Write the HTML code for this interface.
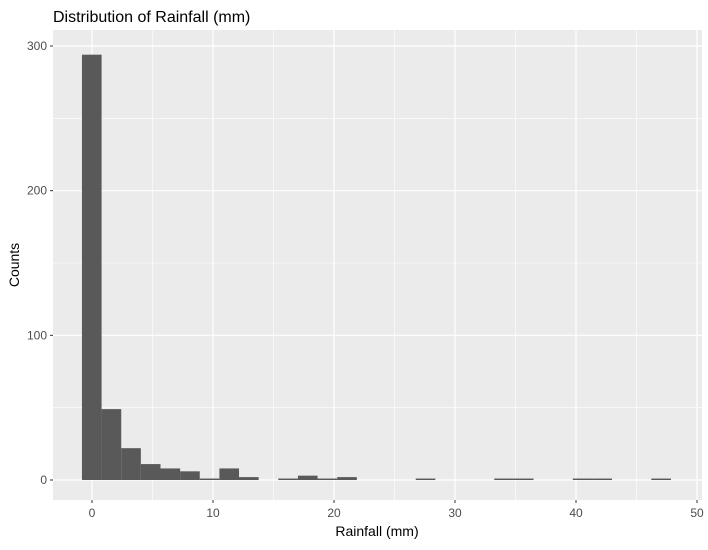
<!DOCTYPE html>
<html><head><meta charset="utf-8"><style>
body{margin:0;background:#fff;font-family:"Liberation Sans",Arial,sans-serif}
</style></head><body>
<svg id="chart" width="708" height="545" xmlns="http://www.w3.org/2000/svg">
<rect width="708" height="545" fill="#fff"/>
<text x="53" y="22" font-size="16" fill="#000">Distribution of Rainfall (mm)</text>
<text x="377" y="536" font-size="14" text-anchor="middle">Rainfall (mm)</text>
<text transform="translate(19,265) rotate(-90)" font-size="14" text-anchor="middle">Counts</text>
</svg>
<script>
const counts = [294,49,22,11,8,6,1,8,2,0,1,3,1,2,0,0,0,1,0,0,0,1,1,0,0,1,1,0,0,1];
const binStart = -0.83;
const binWidth = 1.6226;
const xTicks = [0,10,20,30,40,50];
const yTicks = [0,100,200,300];

const svg = document.getElementById('chart');
const NS = 'http://www.w3.org/2000/svg';
const L=53,R=702,T=30,B=500;
const x = v => 92 + (v-0)*(213-92)/10;
const y = v => 480 - v*(480-46)/300;
function el(tag, attrs, parent){const e=document.createElementNS(NS,tag);for(const k in attrs)e.setAttribute(k,attrs[k]);(parent||svg).appendChild(e);return e;}
const panel = el('rect',{x:L,y:T,width:R-L,height:B-T,fill:'#ebebeb'});


for(let i=0;i<xTicks.length-1;i++){const v=(xTicks[i]+xTicks[i+1])/2;const g=el('line',{x1:x(v),x2:x(v),y1:T,y2:B,stroke:'#fff','stroke-width':0.6});

}
for(let i=0;i<yTicks.length-1;i++){const v=(yTicks[i]+yTicks[i+1])/2;const g=el('line',{x1:L,x2:R,y1:y(v),y2:y(v),stroke:'#fff','stroke-width':0.6});

}
xTicks.forEach(v=>{const px=x(v);
const g=el('line',{x1:px,x2:px,y1:T,y2:B,stroke:'#fff','stroke-width':1.2});


const t=el('line',{x1:px,x2:px,y1:B,y2:B+3,stroke:'#333'});


const tx=el('text',{x:px,y:B+17,'font-size':12,fill:'#4d4d4d','text-anchor':'middle'});tx.textContent=v;

});
yTicks.forEach(v=>{const py=y(v);
const g=el('line',{x1:L,x2:R,y1:py,y2:py,stroke:'#fff','stroke-width':1.2});


const t=el('line',{x1:L-3,x2:L,y1:py,y2:py,stroke:'#333'});


const tx=el('text',{x:L-6,y:py+4,'font-size':12,fill:'#4d4d4d','text-anchor':'end'});tx.textContent=v;

});
counts.forEach((c,i)=>{if(c<=0)return;
const x0=x(binStart+i*binWidth),x1=x(binStart+(i+1)*binWidth);
const b=el('rect',{x:x0,y:y(c),width:x1-x0,height:y(0)-y(c),fill:'#595959'});

});
</script>
</body></html>
